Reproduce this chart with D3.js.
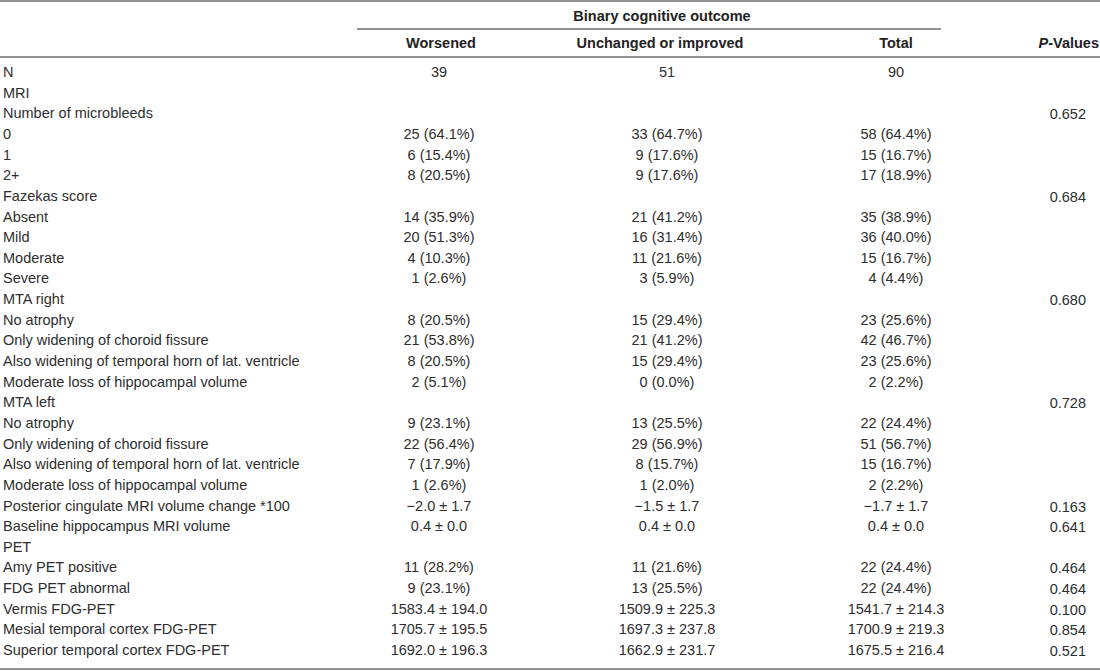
<!DOCTYPE html>
<html>
<head>
<meta charset="utf-8">
<script src="https://cdn.jsdelivr.net/npm/d3@7"></script>
<style>
  body { margin: 0; background: #fff; }
  svg text { font-family: "Liberation Sans", Arial, sans-serif; fill: #2e2e2e; }
  .hdr { font-weight: bold; font-size: 14.5px; fill: #222; }
  .cell { font-size: 14.5px; }
</style>
</head>
<body>
<script>
// row labels (first column)
const rowLabels = ["N", "MRI", "Number of microbleeds", "0", "1", "2+",
  "Fazekas score", "Absent", "Mild", "Moderate", "Severe",
  "MTA right", "No atrophy", "Only widening of choroid fissure",
  "Also widening of temporal horn of lat. ventricle", "Moderate loss of hippocampal volume",
  "MTA left", "No atrophy", "Only widening of choroid fissure",
  "Also widening of temporal horn of lat. ventricle", "Moderate loss of hippocampal volume",
  "Posterior cingulate MRI volume change *100", "Baseline hippocampus MRI volume",
  "PET", "Amy PET positive", "FDG PET abnormal", "Vermis FDG-PET",
  "Mesial temporal cortex FDG-PET", "Superior temporal cortex FDG-PET"];

const worsened = ["39", "", "", "25 (64.1%)", "6 (15.4%)", "8 (20.5%)",
  "", "14 (35.9%)", "20 (51.3%)", "4 (10.3%)", "1 (2.6%)",
  "", "8 (20.5%)", "21 (53.8%)", "8 (20.5%)", "2 (5.1%)",
  "", "9 (23.1%)", "22 (56.4%)", "7 (17.9%)", "1 (2.6%)",
  "\u22122.0 \u00b1 1.7", "0.4 \u00b1 0.0",
  "", "11 (28.2%)", "9 (23.1%)", "1583.4 \u00b1 194.0",
  "1705.7 \u00b1 195.5", "1692.0 \u00b1 196.3"];

const unchanged = ["51", "", "", "33 (64.7%)", "9 (17.6%)", "9 (17.6%)",
  "", "21 (41.2%)", "16 (31.4%)", "11 (21.6%)", "3 (5.9%)",
  "", "15 (29.4%)", "21 (41.2%)", "15 (29.4%)", "0 (0.0%)",
  "", "13 (25.5%)", "29 (56.9%)", "8 (15.7%)", "1 (2.0%)",
  "\u22121.5 \u00b1 1.7", "0.4 \u00b1 0.0",
  "", "11 (21.6%)", "13 (25.5%)", "1509.9 \u00b1 225.3",
  "1697.3 \u00b1 237.8", "1662.9 \u00b1 231.7"];

const total = ["90", "", "", "58 (64.4%)", "15 (16.7%)", "17 (18.9%)",
  "", "35 (38.9%)", "36 (40.0%)", "15 (16.7%)", "4 (4.4%)",
  "", "23 (25.6%)", "42 (46.7%)", "23 (25.6%)", "2 (2.2%)",
  "", "22 (24.4%)", "51 (56.7%)", "15 (16.7%)", "2 (2.2%)",
  "\u22121.7 \u00b1 1.7", "0.4 \u00b1 0.0",
  "", "22 (24.4%)", "22 (24.4%)", "1541.7 \u00b1 214.3",
  "1700.9 \u00b1 219.3", "1675.5 \u00b1 216.4"];

const pValues = ["", "", "0.652", "", "", "",
  "0.684", "", "", "", "",
  "0.680", "", "", "", "",
  "0.728", "", "", "", "",
  "0.163", "0.641",
  "", "0.464", "0.464", "0.100",
  "0.854", "0.521"];

const groupTitle = "Binary cognitive outcome";
const colHeaders = ["Worsened", "Unchanged or improved", "Total"];
const colKeys = ["worsened", "unchanged", "total"];

const width = 1100, height = 671;

const svg = d3.select("body").append("svg")
    .attr("width", width)
    .attr("height", height);

// scales
const yRow = d3.scaleLinear()
    .domain([0, rowLabels.length - 1])
    .range([77, 655]);
const xCol = d3.scaleOrdinal()
    .domain(colKeys)
    .range([439, 667, 896]);
const xHead = d3.scaleOrdinal()
    .domain(colHeaders)
    .range([441, 660, 896]);

// rules
const rules = [
  {x1: 0, x2: width, y: 1},
  {x1: 357, x2: 941, y: 29},
  {x1: 0, x2: width, y: 57},
  {x1: 0, x2: width, y: 669}
];
svg.selectAll(".rule")
   .data(rules).enter()
   .append("line")
   .attr("class", "rule")
   .attr("x1", d => d.x1)
   .attr("x2", d => d.x2)
   .attr("y1", d => d.y)
   .attr("y2", d => d.y)
   .style("stroke", "#6e6e6e")
   .style("stroke-width", 1.5);

// header
svg.append("text")
   .attr("class", "hdr")
   .attr("x", 662)
   .attr("y", 21)
   .style("text-anchor", "middle")
   .text(groupTitle);

svg.selectAll(".colHead")
   .data(colHeaders).enter()
   .append("text")
   .attr("class", "hdr colHead")
   .attr("x", d => xHead(d))
   .attr("y", 48)
   .style("text-anchor", "middle")
   .text(d => d);

const pHead = svg.append("text")
   .attr("class", "hdr")
   .attr("x", 1099)
   .attr("y", 48)
   .style("text-anchor", "end");
pHead.append("tspan").style("font-style", "italic").text("P");
pHead.append("tspan").text("-Values");

// body rows
const rows = rowLabels.map(function(label, i){
  return {label: label, worsened: worsened[i], unchanged: unchanged[i],
          total: total[i], p: pValues[i], i: i};
});

svg.selectAll(".rowLab")
   .data(rows).enter()
   .append("text")
   .attr("class", "cell rowLab")
   .attr("x", 3)
   .attr("y", d => yRow(d.i))
   .text(d => d.label);

for (let key of colKeys){
  svg.selectAll(".c-" + key)
     .data(rows.filter(d => d[key] != "")).enter()
     .append("text")
     .attr("class", "cell c-" + key)
     .attr("x", xCol(key))
     .attr("y", d => yRow(d.i))
     .style("text-anchor", "middle")
     .text(d => d[key]);
}

svg.selectAll(".pval")
   .data(rows.filter(d => d.p != "")).enter()
   .append("text")
   .attr("class", "cell pval")
   .attr("x", 1086)
   .attr("y", d => yRow(d.i) + 1)
   .style("text-anchor", "end")
   .text(d => d.p);
</script>
</body>
</html>
